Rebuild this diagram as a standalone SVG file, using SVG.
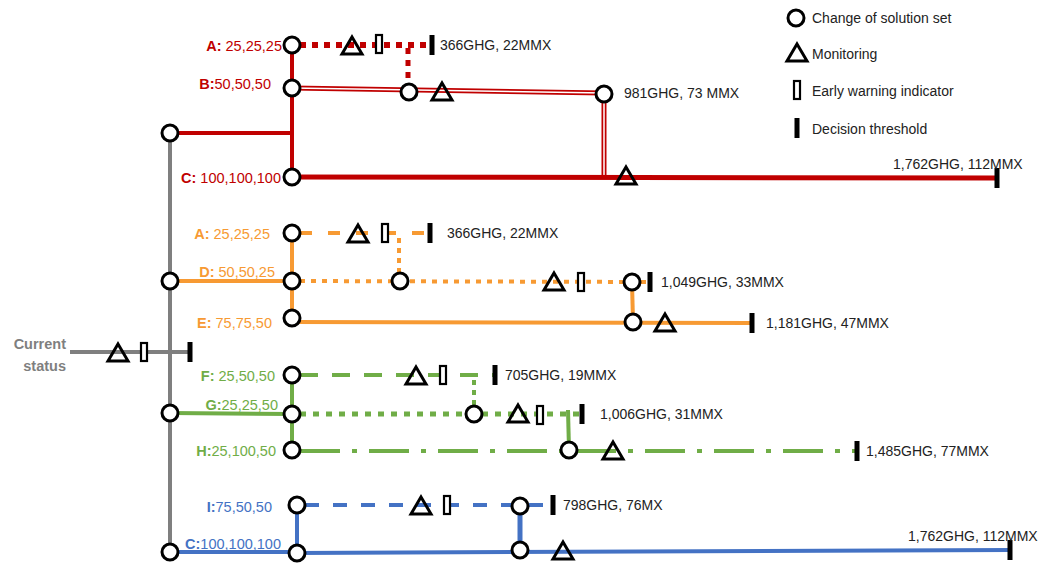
<svg xmlns="http://www.w3.org/2000/svg" width="1039" height="567" viewBox="0 0 1039 567">
  <style>
    text { font-family: "Liberation Sans", Arial, sans-serif; font-size: 14.5px; }
    .val { fill: #222; font-size: 14px; }
    .lbl { text-anchor: end; }
    .red { fill: #C00000; } .org { fill: #F79A33; } .grn { fill: #70AD47; } .blu { fill: #4472C4; }
    .cs { stroke: #000; stroke-width: 3; fill: #fff; }
    .mon { stroke: #000; stroke-width: 3; fill: none; stroke-linejoin: miter; }
    .ew { stroke: #000; stroke-width: 2.2; fill: #fff; }
    .dt { fill: #000; }
    .lr { stroke: #C00000; fill: none; }
    .lo { stroke: #F79A33; fill: none; }
    .lg { stroke: #70AD47; fill: none; }
    .lb { stroke: #4472C4; fill: none; }
    .gray { stroke: #7F7F7F; stroke-width: 4; fill: none; }
  </style>
  <defs>
    <circle id="cs" r="8" class="cs"/>
    <path id="mon" d="M0,-9 L10,8 L-10,8 Z" class="mon"/>
    <rect id="ew" x="-3" y="-9" width="6" height="18" class="ew"/>
    <rect id="dt" x="-2.5" y="-10" width="5" height="20" class="dt"/>
  </defs>

  <!-- connectors -->
  <g id="connectors">
    <!-- trunk and current status -->
    <line x1="170" y1="133" x2="170" y2="552" class="gray"/>
    <line x1="70" y1="352" x2="190" y2="352" class="gray"/>
    <!-- red family -->
    <line x1="170" y1="133" x2="292" y2="133" class="lr" stroke-width="4"/>
    <line x1="292" y1="45" x2="292" y2="177" class="lr" stroke-width="4"/>
    <line x1="300" y1="45" x2="432" y2="45" class="lr" stroke-width="6" stroke-dasharray="6 6"/>
    <line x1="408" y1="48" x2="408" y2="86" class="lr" stroke-width="5" stroke-dasharray="6 6"/>
    <path d="M292,88 L604,93 M604,94 L604,177" class="lr" stroke-width="5"/>
    <path d="M292,88 L604,93 M604,94 L604,177" stroke="#fff" stroke-width="1.5" fill="none"/>
    <line x1="292" y1="177" x2="997" y2="178" class="lr" stroke-width="5"/>
    <!-- orange family -->
    <line x1="170" y1="281" x2="292" y2="281" class="lo" stroke-width="4"/>
    <line x1="292" y1="233" x2="292" y2="319" class="lo" stroke-width="4"/>
    <line x1="300" y1="233" x2="430" y2="233" class="lo" stroke-width="4" stroke-dasharray="12 16"/>
    <line x1="399" y1="238" x2="399" y2="273" class="lo" stroke-width="4" stroke-dasharray="5 5"/>
    <line x1="300" y1="281" x2="650" y2="282" class="lo" stroke-width="4" stroke-dasharray="5 6"/>
    <line x1="632" y1="282" x2="633" y2="322" class="lo" stroke-width="4"/>
    <line x1="292" y1="322" x2="752" y2="323" class="lo" stroke-width="4"/>
    <!-- green family -->
    <line x1="170" y1="413" x2="292" y2="414" class="lg" stroke-width="4"/>
    <line x1="292" y1="375" x2="292" y2="450" class="lg" stroke-width="4"/>
    <line x1="300" y1="375" x2="495" y2="375" class="lg" stroke-width="4" stroke-dasharray="18 14"/>
    <line x1="474" y1="380" x2="474" y2="408" class="lg" stroke-width="4" stroke-dasharray="5 5"/>
    <line x1="300" y1="414" x2="582" y2="414" class="lg" stroke-width="5" stroke-dasharray="6 7"/>
    <line x1="568" y1="410" x2="569" y2="450" class="lg" stroke-width="4"/>
    <line x1="300" y1="451" x2="857" y2="451" class="lg" stroke-width="4" stroke-dasharray="40 12 5 12"/>
    <!-- blue family -->
    <line x1="170" y1="552" x2="297" y2="552" class="lb" stroke-width="4"/>
    <line x1="297" y1="505" x2="297" y2="552" class="lb" stroke-width="4"/>
    <line x1="305" y1="505" x2="553" y2="505" class="lb" stroke-width="4" stroke-dasharray="14 14"/>
    <line x1="520" y1="506" x2="520" y2="550" class="lb" stroke-width="5"/>
    <line x1="297" y1="553" x2="1010" y2="550" class="lb" stroke-width="4"/>
  </g>

  <!-- current status -->
  <g id="current-status">
    <text x="66" y="349" text-anchor="end" fill="#7F7F7F" font-weight="bold" font-size="16">Current</text>
    <text x="66" y="371" text-anchor="end" fill="#7F7F7F" font-weight="bold" font-size="16">status</text>
    <use href="#mon" x="118" y="353"/>
    <use href="#ew" x="144" y="352"/>
    <use href="#dt" x="190" y="352"/>
  </g>

  <!-- trunk branch points -->
  <g id="trunk">
    <use href="#cs" x="170" y="133"/>
    <use href="#cs" x="170" y="281"/>
    <use href="#cs" x="170" y="413"/>
    <use href="#cs" x="170" y="552"/>
  </g>

  <!-- red pathways -->
  <g id="red-A">
    <text x="282" y="51" class="lbl red"><tspan font-weight="bold">A:</tspan> 25,25,25</text>
    <use href="#cs" x="292" y="45"/>
    <use href="#mon" x="352" y="46"/>
    <use href="#ew" x="379" y="44"/>
    <use href="#dt" x="432" y="45"/>
    <text x="440" y="50" class="val">366GHG, 22MMX</text>
  </g>
  <g id="red-B">
    <text x="271" y="89" class="lbl red"><tspan font-weight="bold">B:</tspan>50,50,50</text>
    <use href="#cs" x="292" y="88"/>
    <use href="#cs" x="409" y="92"/>
    <use href="#mon" x="442" y="92"/>
    <use href="#cs" x="604" y="94"/>
    <text x="624" y="98" class="val">981GHG, 73 MMX</text>
  </g>
  <g id="red-C">
    <text x="281" y="183" class="lbl red"><tspan font-weight="bold">C:</tspan> 100,100,100</text>
    <use href="#cs" x="292" y="177"/>
    <use href="#mon" x="626" y="176"/>
    <use href="#dt" x="997" y="178"/>
    <text x="893" y="169" class="val">1,762GHG, 112MMX</text>
  </g>

  <!-- orange pathways -->
  <g id="orange-A">
    <text x="270" y="239" class="lbl org"><tspan font-weight="bold">A:</tspan> 25,25,25</text>
    <use href="#cs" x="292" y="233"/>
    <use href="#mon" x="358" y="234"/>
    <use href="#ew" x="385" y="233"/>
    <use href="#dt" x="430" y="233"/>
    <text x="447" y="238" class="val">366GHG, 22MMX</text>
  </g>
  <g id="orange-D">
    <text x="275" y="277" class="lbl org"><tspan font-weight="bold">D:</tspan> 50,50,25</text>
    <use href="#cs" x="292" y="281"/>
    <use href="#cs" x="400" y="281"/>
    <use href="#mon" x="554" y="282"/>
    <use href="#ew" x="581" y="282"/>
    <use href="#cs" x="632" y="282"/>
    <use href="#dt" x="650" y="282"/>
    <text x="661" y="287" class="val">1,049GHG, 33MMX</text>
  </g>
  <g id="orange-E">
    <text x="272" y="328" class="lbl org"><tspan font-weight="bold">E:</tspan> 75,75,50</text>
    <use href="#cs" x="292" y="318"/>
    <use href="#cs" x="633" y="322"/>
    <use href="#mon" x="665" y="323"/>
    <use href="#dt" x="752" y="323"/>
    <text x="766" y="328" class="val">1,181GHG, 47MMX</text>
  </g>

  <!-- green pathways -->
  <g id="green-F">
    <text x="275" y="381" class="lbl grn"><tspan font-weight="bold">F:</tspan> 25,50,50</text>
    <use href="#cs" x="292" y="375"/>
    <use href="#mon" x="416" y="376"/>
    <use href="#ew" x="443" y="375"/>
    <use href="#dt" x="495" y="375"/>
    <text x="505" y="380" class="val">705GHG, 19MMX</text>
  </g>
  <g id="green-G">
    <text x="278" y="410" class="lbl grn"><tspan font-weight="bold">G:</tspan>25,25,50</text>
    <use href="#cs" x="292" y="414"/>
    <use href="#cs" x="474" y="414"/>
    <use href="#mon" x="518" y="414"/>
    <use href="#ew" x="540" y="415"/>
    <use href="#dt" x="582" y="414"/>
    <text x="600" y="419" class="val">1,006GHG, 31MMX</text>
  </g>
  <g id="green-H">
    <text x="276" y="456" class="lbl grn"><tspan font-weight="bold">H:</tspan>25,100,50</text>
    <use href="#cs" x="292" y="450"/>
    <use href="#cs" x="569" y="450"/>
    <use href="#mon" x="613" y="451"/>
    <use href="#dt" x="857" y="451"/>
    <text x="866" y="456" class="val">1,485GHG, 77MMX</text>
  </g>

  <!-- blue pathways -->
  <g id="blue-I">
    <text x="272" y="512" class="lbl blu"><tspan font-weight="bold">I:</tspan>75,50,50</text>
    <use href="#cs" x="297" y="505"/>
    <use href="#mon" x="421" y="506"/>
    <use href="#ew" x="447" y="505"/>
    <use href="#cs" x="520" y="506"/>
    <use href="#dt" x="553" y="505"/>
    <text x="563" y="510" class="val">798GHG, 76MX</text>
  </g>
  <g id="blue-C">
    <text x="281" y="549" class="lbl blu"><tspan font-weight="bold">C:</tspan>100,100,100</text>
    <use href="#cs" x="297" y="553"/>
    <use href="#cs" x="520" y="550"/>
    <use href="#mon" x="563" y="551"/>
    <use href="#dt" x="1010" y="550"/>
    <text x="908" y="541" class="val">1,762GHG, 112MMX</text>
  </g>

  <!-- legend -->
  <g id="legend">
    <use href="#cs" x="796" y="18"/>
    <text x="812" y="23" class="val">Change of solution set</text>
    <use href="#mon" x="797" y="53"/>
    <text x="812" y="59" class="val">Monitoring</text>
    <use href="#ew" x="797" y="90"/>
    <text x="812" y="96" class="val">Early warning indicator</text>
    <use href="#dt" x="797" y="128"/>
    <text x="812" y="134" class="val">Decision threshold</text>
  </g>
</svg>
